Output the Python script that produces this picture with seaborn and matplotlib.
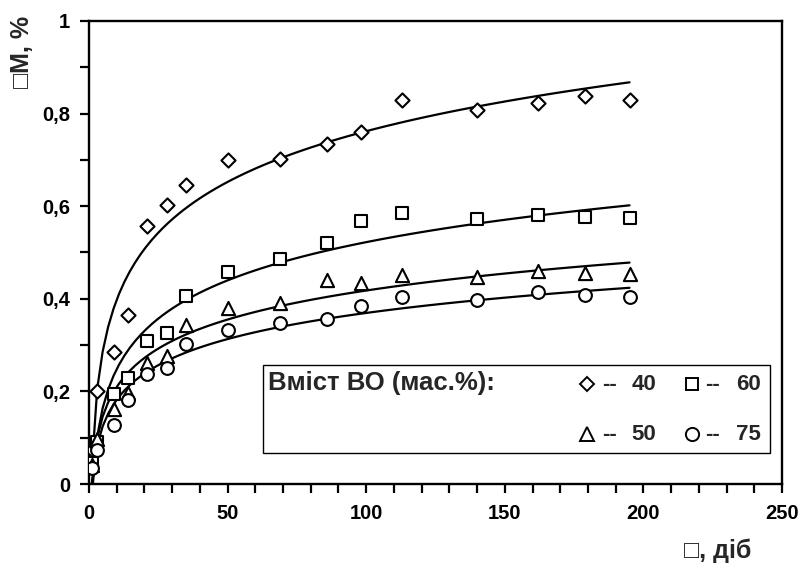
import numpy as np
import pandas as pd
import matplotlib
matplotlib.use("Agg")
import matplotlib.pyplot as plt
import seaborn as sns
from matplotlib.ticker import MultipleLocator, FuncFormatter
from matplotlib.patches import Rectangle

# ---- data ----
days = [1, 3, 9, 14, 21, 28, 35, 50, 69, 86, 98, 113, 140, 162, 179, 195]
vo40 = [0.074, 0.200, 0.285, 0.366, 0.558, 0.602, 0.645, 0.699, 0.703, 0.735, 0.760, 0.830, 0.808, 0.822, 0.839, 0.829]
vo60 = [0.045, 0.090, 0.194, 0.228, 0.308, 0.326, 0.406, 0.457, 0.487, 0.521, 0.568, 0.586, 0.573, 0.581, 0.577, 0.575]
vo50 = [0.040, 0.097, 0.161, 0.197, 0.262, 0.276, 0.344, 0.380, 0.391, 0.441, 0.435, 0.452, 0.448, 0.459, 0.455, 0.454]
vo75 = [0.034, 0.074, 0.128, 0.181, 0.237, 0.251, 0.302, 0.333, 0.348, 0.356, 0.385, 0.403, 0.398, 0.414, 0.409, 0.404]
series_labels = ["40", "60", "50", "75"]
y_ticks = [0, 0.2, 0.4, 0.6, 0.8, 1.0]
x_ticks = [0, 50, 100, 150, 200, 250]

sns.set_style("ticks")
plt.rcParams['font.family'] = ['Liberation Sans', 'DejaVu Sans']
plt.rcParams['font.weight'] = 'bold'

fig = plt.figure(figsize=(8.02, 5.65), dpi=100)
ax = fig.add_axes([89/802, 1-484/565, (782-89)/802, (484-21)/565])

series = [(vo40, 'D', 7.2), (vo60, 's', 8.6), (vo50, '^', 9.5), (vo75, 'o', 9.2)]
for vals, mk, ms in series:
    df = pd.DataFrame({"t": days, "m": vals})
    sns.regplot(data=df, x="t", y="m", logx=True, ci=None, scatter=False,
                line_kws=dict(color='black', lw=1.6), ax=ax, truncate=True)
    sns.scatterplot(data=df, x="t", y="m", marker=mk, s=ms**2, facecolor='white',
                    edgecolor='black', linewidth=1.5, ax=ax, zorder=3)

ax.set_xlim(0, 250)
ax.set_ylim(0, 1)
ax.set_xticks(x_ticks)
ax.set_yticks(y_ticks)
ax.xaxis.set_minor_locator(MultipleLocator(10))
ax.yaxis.set_minor_locator(MultipleLocator(0.1))
fmt = FuncFormatter(lambda v, p: ("%g" % round(v, 2)).replace('.', ','))
ax.yaxis.set_major_formatter(fmt)
ax.xaxis.set_major_formatter(FuncFormatter(lambda v, p: "%d" % v))
ax.tick_params(which='both', direction='out', length=6.5, width=1.6, colors='black')
ax.tick_params(axis='x', which='major', pad=8, labelsize=14.5)
ax.tick_params(axis='y', which='major', pad=7, labelsize=14.5)
for lab in ax.get_xticklabels() + ax.get_yticklabels():
    lab.set_fontweight('bold')
for sp in ax.spines.values():
    sp.set_visible(True)
    sp.set_linewidth(1.7)
    sp.set_color('black')
ax.set_xlabel("")
ax.set_ylabel("")

# custom legend box
T = ax.transAxes
def ax_x(px):
    return (px - 89) / 693
def ax_y(py):
    return (484 - py) / 463

ax.add_patch(Rectangle((ax_x(263), ax_y(453)), ax_x(770) - ax_x(263), ax_y(365) - ax_y(453),
                       transform=T, fill=True, facecolor='white', edgecolor='black',
                       lw=1.0, zorder=5))
ax.text(ax_x(268), ax_y(383), "Вміст ВО (мас.%):", transform=T, fontsize=18.5,
        fontweight='bold', va='center', ha='left', zorder=6)
r1, r2 = ax_y(384), ax_y(434)
leg = [(587, r1, 'D', 7.0, series_labels[0], 601.7, 631.7),
       (691.7, r1, 's', 9.0, series_labels[1], 705, 735.7),
       (587, r2, '^', 10.0, series_labels[2], 601.7, 631.7),
       (691.7, r2, 'o', 9.5, series_labels[3], 705, 735.7)]
for x, y, mk, ms, lab, xd, xl in leg:
    ax.plot([ax_x(x)], [y], marker=mk, ms=ms, mfc='white', mec='black', mew=1.4,
            transform=T, zorder=6, clip_on=False, ls='none')
    ax.text(ax_x(xd), y, "--", transform=T, fontsize=16, fontweight='bold',
            va='center', ha='left', zorder=6)
    ax.text(ax_x(xl), y, lab, transform=T, fontsize=16, fontweight='bold',
            va='center', ha='left', zorder=6)

fig.text(0.027, 1-52/565, "□M, %", rotation=90, fontsize=18, fontweight='bold',
         ha='center', va='center')
fig.text(718/802, 1-551/565, "□, діб", fontsize=18, fontweight='bold',
         ha='center', va='center')

fig.savefig("out.png", dpi=100)
